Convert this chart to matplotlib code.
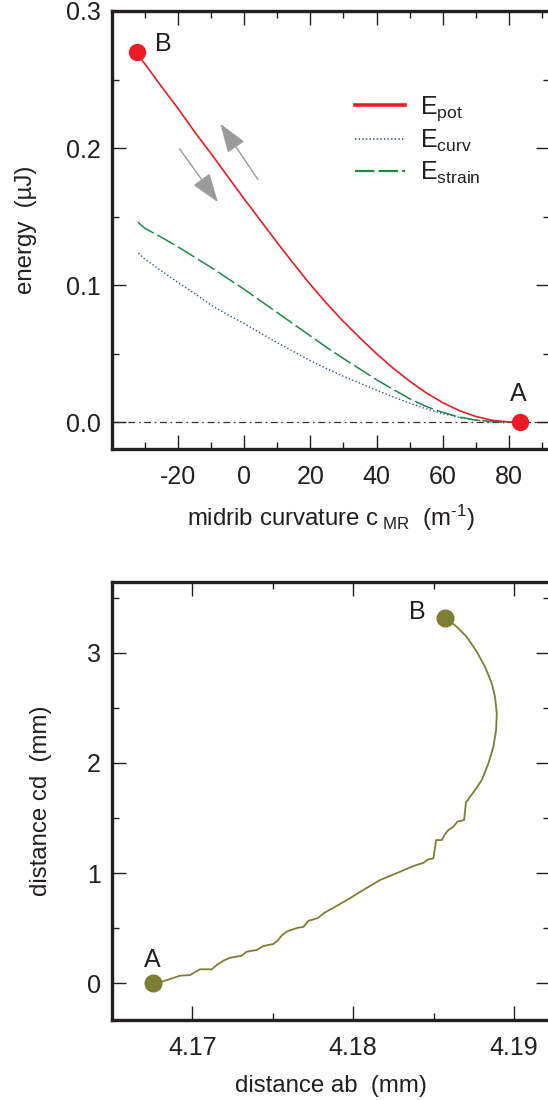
import matplotlib
matplotlib.use("Agg")
import matplotlib.pyplot as plt
from matplotlib.lines import Line2D
from matplotlib.ticker import MultipleLocator, FixedLocator, FormatStrFormatter

plt.rcParams['font.family'] = ['Liberation Sans', 'DejaVu Sans']
plt.rcParams['mathtext.fontset'] = 'custom'
plt.rcParams['mathtext.rm'] = 'Liberation Sans'
plt.rcParams['mathtext.it'] = 'Liberation Sans:italic'
plt.rcParams['axes.unicode_minus'] = False
plt.rcParams['lines.scale_dashes'] = False

TXT = '#231f20'
FS = 18
LFS = 17.3

# ---------------- data: top panel ----------------
pot_x = [-32.4, -30, -25, -20, -15, -10, -5, 0, 5, 10, 15, 20, 25, 30, 35, 40, 45, 50,
         55, 60, 65, 70, 75, 80, 83.2]
pot_y = [0.269, 0.2615, 0.245, 0.229, 0.212, 0.196, 0.1795, 0.163, 0.147, 0.131, 0.1155,
         0.1005, 0.0865, 0.0735, 0.0615, 0.050, 0.0395, 0.030, 0.0215, 0.0143, 0.0085,
         0.0042, 0.0014, 0.0002, 0.0]

curv_x = [-31.9, -30, -25, -20, -15, -10, -5, 0, 5, 10, 15, 20, 25, 30, 35, 40, 45, 50,
          55, 60, 65, 70, 75, 78]
curv_y = [0.1234, 0.119, 0.1105, 0.102, 0.094, 0.0855, 0.0785, 0.072, 0.065, 0.058,
          0.0515, 0.045, 0.039, 0.0335, 0.0285, 0.0235, 0.0185, 0.014, 0.0098, 0.0063,
          0.0035, 0.0015, 0.0004, 0.0]

strain_x = [-32.1, -30, -25, -20, -15, -10, -5, 0, 5, 10, 15, 20, 25, 30, 35, 40, 45, 50,
            55, 60, 65, 70, 75, 80]
strain_y = [0.146, 0.1415, 0.135, 0.128, 0.1205, 0.113, 0.105, 0.097, 0.0885, 0.080,
            0.0715, 0.063, 0.0545, 0.0465, 0.0388, 0.031, 0.024, 0.0172, 0.0115, 0.0072,
            0.0038, 0.0016, 0.0005, 0.0]

pointA_top = (83.2, 0.0)
pointB_top = (-32.4, 0.270)
x_ticks_top = [-20, 0, 20, 40, 60, 80]

# ---------------- data: bottom panel ----------------
ab = [4.16756, 4.16810, 4.16924, 4.16986, 4.17048, 4.17121, 4.17152, 4.17193, 4.17234,
      4.17307, 4.17338, 4.17400, 4.17442, 4.17504, 4.17535, 4.17557, 4.17593, 4.17658,
      4.17690, 4.17723, 4.17781, 4.17820, 4.17885, 4.17971, 4.18057, 4.18167, 4.18292,
      4.18374, 4.18437, 4.18468, 4.18499, 4.18516, 4.18551, 4.18572, 4.18592, 4.18623,
      4.18648, 4.18690, 4.18702, 4.18710, 4.18727, 4.18758, 4.18800, 4.18841, 4.18872,
      4.18889, 4.18893, 4.18882, 4.18862, 4.18820, 4.18769, 4.18706, 4.18644, 4.18572]
cd = [0.0, 0.0145, 0.069, 0.075, 0.127, 0.127, 0.166, 0.205, 0.232,
      0.250, 0.287, 0.302, 0.338, 0.357, 0.393, 0.4365, 0.474, 0.505,
      0.511, 0.5675, 0.5925, 0.639, 0.692, 0.764, 0.842, 0.937, 1.013,
      1.064, 1.094, 1.125, 1.134, 1.300, 1.300, 1.355, 1.391, 1.421,
      1.467, 1.482, 1.648, 1.657, 1.693, 1.754, 1.845, 1.996, 2.147,
      2.299, 2.450, 2.601, 2.722, 2.873, 3.009, 3.145, 3.236, 3.318]

RED = '#ec1c24'
BLUE = '#2e4ea3'
GREEN = '#1b8a43'
OLIVE = '#7e7e33'
GRAY = '#9b9b9b'

fig = plt.figure(figsize=(5.48, 11.0), dpi=100)
W, H = 548.0, 1100.0

def style_axes(ax):
    for s in ax.spines.values():
        s.set_linewidth(2.4)
        s.set_color(TXT)
    ax.tick_params(which='both', direction='in', top=True, right=True,
                   colors=TXT, labelsize=FS, width=1.0)
    ax.tick_params(which='major', length=10)
    ax.tick_params(which='minor', length=5)
    ax.tick_params(axis='x', which='major', pad=11.5)
    ax.tick_params(axis='y', which='major', pad=8)

# ---------------- top axes ----------------
ax1 = fig.add_axes([111.7 / W, 1 - 449 / H, (550 - 111.7) / W, 438 / H])
ax1.set_xlim(-40, 92.4)
ax1.set_ylim(-0.0195, 0.3)
style_axes(ax1)
ax1.xaxis.set_major_locator(FixedLocator(x_ticks_top))
ax1.xaxis.set_minor_locator(MultipleLocator(10))
ax1.yaxis.set_major_locator(MultipleLocator(0.1))
ax1.yaxis.set_minor_locator(MultipleLocator(0.05))
ax1.yaxis.set_major_formatter(FormatStrFormatter('%.1f'))

ax1.axhline(0, color='#333333', lw=0.9, linestyle=(0, (5.0, 2.6, 1.2, 2.6)), zorder=1)
ax1.plot(curv_x, curv_y, color=BLUE, lw=1.0, linestyle=(0, (1.0, 1.6)), zorder=2)
ax1.plot(strain_x, strain_y, color=GREEN, lw=1.1, linestyle=(0, (14, 3)), zorder=3)
ax1.plot(pot_x, pot_y, color=RED, lw=1.2, zorder=4)
ax1.plot(*pointB_top, 'o', color=RED, ms=11.5, zorder=5, clip_on=False)
ax1.plot(*pointA_top, 'o', color=RED, ms=11.5, zorder=5, clip_on=False)
ax1.text(-24.5, 0.2759, 'B', fontsize=FS, color=TXT, ha='center', va='center')
ax1.text(82.7, 0.0208, 'A', fontsize=FS, color=TXT, ha='center', va='center')

arrow_kw = dict(arrowstyle='-|>,head_length=1.3,head_width=0.45', color=GRAY,
                lw=1.0, mutation_scale=14, shrinkA=0, shrinkB=0)
ax1.annotate('', xy=(-7.2, 0.2178), xytext=(4.2, 0.177), arrowprops=arrow_kw)
ax1.annotate('', xy=(-7.9, 0.1605), xytext=(-19.5, 0.1995), arrowprops=arrow_kw)

handles = [Line2D([], [], color=RED, lw=2.6),
           Line2D([], [], color=BLUE, lw=1.2, linestyle=(0, (1.0, 1.6))),
           Line2D([], [], color=GREEN, lw=1.6, linestyle=(0, (14, 3)))]
labels = [r'E$_{\mathrm{pot}}$', r'E$_{\mathrm{curv}}$', r'E$_{\mathrm{strain}}$']
leg = ax1.legend(handles, labels, loc='upper left', bbox_to_anchor=(0.555, 0.81),
                 frameon=False, fontsize=FS, handlelength=2.0, handletextpad=0.6,
                 labelspacing=0.21, borderpad=0, borderaxespad=0)
for t in leg.get_texts():
    t.set_color(TXT)

ax1.set_xlabel(r'midrib curvature c$_{\ \mathrm{MR}}$  (m$^{\text{-1}}$)', fontsize=LFS,
               color=TXT, labelpad=10)
ax1.set_ylabel(u'energy  (\u00b5J)', fontsize=LFS, color=TXT, labelpad=21)

# ---------------- bottom axes ----------------
ax2 = fig.add_axes([111.7 / W, 1 - 1020 / H, (550 - 111.7) / W, 438.3 / H])
ax2.set_xlim(4.16499, 4.19224)
ax2.set_ylim(-0.333, 3.645)
style_axes(ax2)
ax2.xaxis.set_major_locator(MultipleLocator(0.01))
ax2.xaxis.set_minor_locator(MultipleLocator(0.005))
ax2.xaxis.set_major_formatter(FormatStrFormatter('%.2f'))
ax2.yaxis.set_major_locator(MultipleLocator(1))
ax2.yaxis.set_minor_locator(MultipleLocator(0.5))
ax2.yaxis.set_major_formatter(FormatStrFormatter('%d'))

ax2.plot(ab, cd, color=OLIVE, lw=1.3, zorder=2)
ax2.plot(ab[0], cd[0], 'o', color=OLIVE, ms=12, zorder=3)
ax2.plot(ab[-1], cd[-1], 'o', color=OLIVE, ms=12, zorder=3)
ax2.text(4.1675, 0.211, 'A', fontsize=FS, color=TXT, ha='center', va='center')
ax2.text(4.1840, 3.372, 'B', fontsize=FS, color=TXT, ha='center', va='center')

ax2.set_xlabel('distance ab  (mm)', fontsize=LFS, color=TXT, labelpad=11)
ax2.set_ylabel('distance cd  (mm)', fontsize=LFS, color=TXT, labelpad=25)

fig.savefig('out.png', dpi=100)
